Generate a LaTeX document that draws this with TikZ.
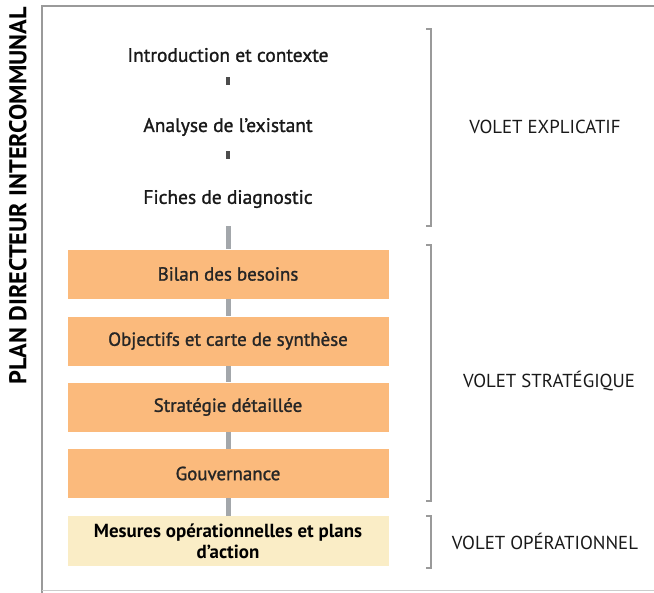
\documentclass[tikz,border=0pt]{standalone}
\usepackage{fontspec}
\setmainfont{PT Sans}
\newfontfamily\semib[FakeBold=1.3]{PT Sans}
\definecolor{orangebox}{HTML}{FBBA7C}
\definecolor{yellowbox}{HTML}{FAEDC6}
\definecolor{linkgray}{HTML}{A3A7AB}
\definecolor{framegray}{HTML}{9A9A9A}
\tikzset{
  txt/.style={font=\semib\fontsize{14.6}{16}\selectfont, text=black!90},
  boxo/.style={fill=orangebox, minimum width=240.75pt, minimum height=36.75pt, inner sep=0pt, font=\semib\fontsize{14.2}{16}\selectfont, text=black!85},
  boxy/.style={fill=yellowbox, minimum width=240.75pt, minimum height=37.5pt, inner sep=0pt, font=\bfseries\fontsize{14.2}{15.5}\selectfont, align=center},
  link/.style={draw=linkgray, line width=3.75pt},
  bracket/.style={draw=framegray, line width=0.8pt},
  lab/.style={font=\fontsize{14.1}{16}\selectfont, text=black!90}
}
\begin{document}
\begin{tikzpicture}[x=0.75pt,y=-0.75pt]
\useasboundingbox (0,0) rectangle (654,593);
% frame
\draw[framegray, line width=1pt] (42,593) -- (42,6) -- (654,6);
\draw[black!20, line width=0.6pt] (42,590) -- (654,590);
% title
\node[rotate=90, font=\bfseries\fontsize{18.2}{20}\selectfont] (title) at (18,196) {PLAN DIRECTEUR INTERCOMMUNAL};
% explicatif text nodes
\node[txt] (intro) at (228,55) {Introduction et contexte};
\node[txt] (analyse) at (228,127) {Analyse de l’existant};
\node[txt] (fiches) at (228,199) {Fiches de diagnostic};
% boxes
\node[boxo] (bilan) at (228,274) {Bilan des besoins};
\node[boxo] (obj) at (228,341) {Objectifs et carte de synthèse};
\node[boxo] (strat) at (228,407) {Stratégie détaillée};
\node[boxo] (gouv) at (228,473.5) {Gouvernance};
\node[boxy] (mes) at (228,541) {Mesures opérationnelles et plans\\d’action};
% links
\draw[draw=black!70, line width=2.5pt] ([yshift=-8pt]intro.south) -- ([yshift=-14pt]intro.south);
\draw[draw=black!70, line width=2.5pt] ([yshift=-8pt]analyse.south) -- ([yshift=-14pt]analyse.south);
\draw[link] ([yshift=-10pt]fiches.south) -- (bilan.north);
\draw[link] (bilan.south) -- (obj.north);
\draw[link] (obj.south) -- (strat.north);
\draw[link] (strat.south) -- (gouv.north);
\draw[link] (gouv.south) -- (mes.north);
% brackets
\coordinate (e1) at (426,29); \coordinate (e2) at (426,226);
\coordinate (s1) at (426,245); \coordinate (s2) at (426,501);
\coordinate (o1) at (426,516); \coordinate (o2) at (426,568);
\draw[bracket] (e1) -- ++(5,0) |- (e2);
\draw[bracket] (s1) -- ++(5,0) |- (s2);
\draw[bracket] (o1) -- ++(5,0) |- (o2);
\node[lab] (vexp) at (545,127) {VOLET EXPLICATIF};
\node[lab] (vstr) at (549,381) {VOLET STRATÉGIQUE};
\node[lab] (vop) at (545,541) {VOLET OPÉRATIONNEL};
\end{tikzpicture}
\end{document}
